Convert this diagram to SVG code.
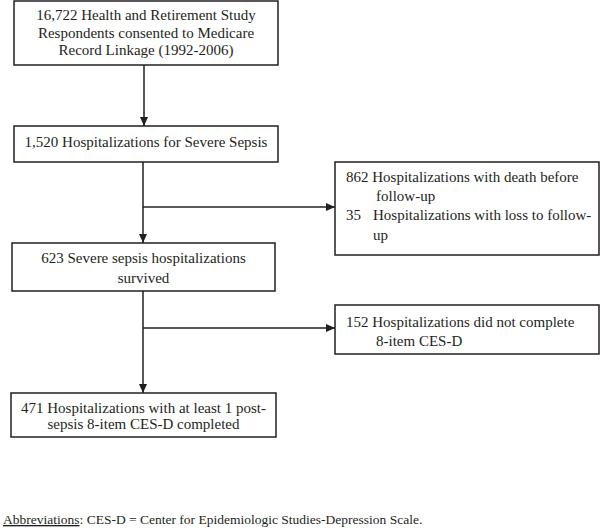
<svg xmlns="http://www.w3.org/2000/svg" width="600" height="531" viewBox="0 0 600 531">
<style>
.box{fill:#fff;stroke:#231f20;stroke-width:1.5}
.t{font-family:"Liberation Serif","Times New Roman",serif;font-size:15px;fill:#231f20}
.f{font-size:13.5px}
.c{text-anchor:middle}
.ln{stroke:#231f20;stroke-width:1.5;fill:none}
</style>
<defs>
<marker id="ah" viewBox="0 0 10 10" refX="10" refY="5" markerWidth="9" markerHeight="8" orient="auto" markerUnits="userSpaceOnUse" preserveAspectRatio="none">
<path d="M0,0 L10,5 L0,10 z" fill="#231f20"/>
</marker>
</defs>
<rect width="600" height="531" fill="#fff"/>
<g id="connectors">
<line class="ln" x1="144" y1="65" x2="144" y2="126" marker-end="url(#ah)"/>
<line class="ln" x1="143" y1="162" x2="143" y2="243" marker-end="url(#ah)"/>
<line class="ln" x1="143" y1="207" x2="335" y2="207" marker-end="url(#ah)"/>
<line class="ln" x1="143" y1="291" x2="143" y2="393" marker-end="url(#ah)"/>
<line class="ln" x1="143" y1="328" x2="335" y2="328" marker-end="url(#ah)"/>
</g>
<g id="n1">
<rect class="box" x="14" y="1" width="264" height="64"/>
<text class="t c" x="146" y="20">16,722 Health and Retirement Study</text>
<text class="t c" x="146" y="37.5">Respondents consented to Medicare</text>
<text class="t c" x="146" y="55">Record Linkage (1992-2006)</text>
</g>
<g id="n2">
<rect class="box" x="14" y="126" width="264" height="36"/>
<text class="t c" x="146" y="147">1,520 Hospitalizations for Severe Sepsis</text>
</g>
<g id="n3">
<rect class="box" x="12" y="243" width="263" height="48"/>
<text class="t c" x="143.5" y="263">623 Severe sepsis hospitalizations</text>
<text class="t c" x="143.5" y="283">survived</text>
</g>
<g id="n4">
<rect class="box" x="11" y="393" width="265" height="44"/>
<text class="t c" x="143.5" y="413">471 Hospitalizations with at least 1 post-</text>
<text class="t c" x="143.5" y="429">sepsis 8-item CES-D completed</text>
</g>
<g id="n5">
<rect class="box" x="335" y="162" width="264" height="93"/>
<text class="t" x="346" y="182">862 Hospitalizations with death before</text>
<text class="t" x="376" y="201">follow-up</text>
<text class="t" x="346" y="220">35</text>
<text class="t" x="373" y="220">Hospitalizations with loss to follow-</text>
<text class="t" x="373" y="240">up</text>
</g>
<g id="n6">
<rect class="box" x="335" y="305" width="264" height="49"/>
<text class="t" x="346" y="327">152 Hospitalizations did not complete</text>
<text class="t" x="376" y="346">8-item CES-D</text>
</g>
<g id="footer">
<text class="t f" x="3" y="524"><tspan text-decoration="underline">Abbreviations</tspan>: CES-D = Center for Epidemiologic Studies-Depression Scale.</text>
</g>
</svg>
